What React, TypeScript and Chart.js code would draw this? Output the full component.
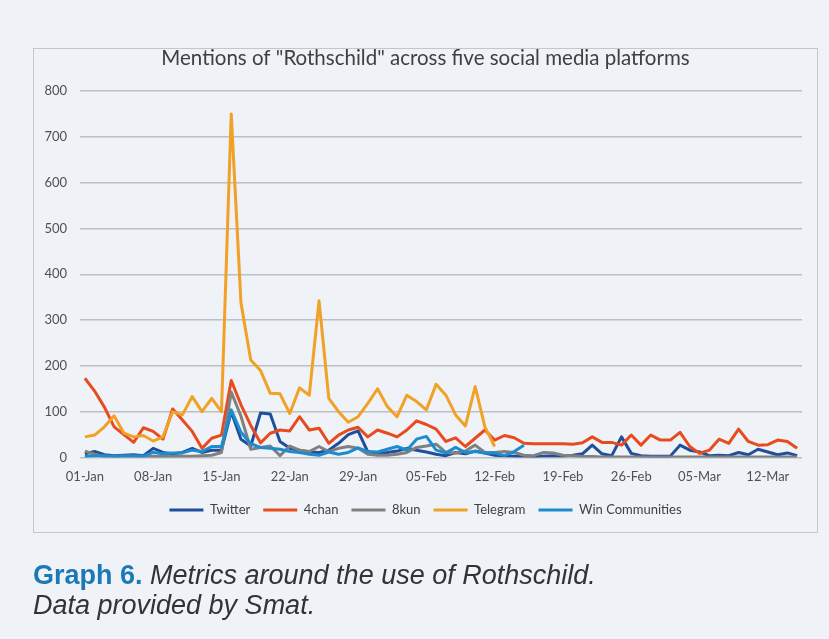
import React, { useEffect, useRef } from 'react';
import { Chart, registerables } from 'chart.js';

Chart.register(...registerables);

const categories = [
  '01-Jan', '02-Jan', '03-Jan', '04-Jan', '05-Jan', '06-Jan', '07-Jan', '08-Jan', '09-Jan', '10-Jan',
  '11-Jan', '12-Jan', '13-Jan', '14-Jan', '15-Jan', '16-Jan', '17-Jan', '18-Jan', '19-Jan', '20-Jan',
  '21-Jan', '22-Jan', '23-Jan', '24-Jan', '25-Jan', '26-Jan', '27-Jan', '28-Jan', '29-Jan', '30-Jan',
  '31-Jan', '01-Feb', '02-Feb', '03-Feb', '04-Feb', '05-Feb', '06-Feb', '07-Feb', '08-Feb', '09-Feb',
  '10-Feb', '11-Feb', '12-Feb', '13-Feb', '14-Feb', '15-Feb', '16-Feb', '17-Feb', '18-Feb', '19-Feb',
  '20-Feb', '21-Feb', '22-Feb', '23-Feb', '24-Feb', '25-Feb', '26-Feb', '27-Feb', '28-Feb', '01-Mar',
  '02-Mar', '03-Mar', '04-Mar', '05-Mar', '06-Mar', '07-Mar', '08-Mar', '09-Mar', '10-Mar', '11-Mar',
  '12-Mar', '13-Mar', '14-Mar', '15-Mar',
];

const twitter = [
  8, 13, 6, 4, 5, 6, 4, 20, 11, 8,
  11, 20, 11, 16, 16, 100, 40, 25, 97, 95,
  35, 20, 16, 12, 11, 16, 31, 50, 58, 12,
  9, 11, 14, 20, 16, 12, 7, 4, 11, 8,
  14, 10, 5, 4, 3, 3, 2, 3, 4, 3,
  5, 8, 27, 8, 4, 45, 9, 4, 3, 3,
  3, 27, 16, 12, 4, 5, 4, 11, 6, 18,
  12, 6, 10, 4,
];

const fourChan = [
  173, 145, 110, 67, 50, 33, 65, 57, 40, 106,
  82, 57, 20, 42, 49, 168, 115, 70, 32, 53,
  60, 58, 89, 60, 64, 31, 49, 60, 66, 45,
  60, 53, 45, 60, 80, 72, 62, 35, 43, 24,
  42, 60, 38, 48, 43, 31, 30, 30, 30, 30,
  29, 32, 45, 33, 33, 27, 49, 27, 49, 38,
  38, 55, 24, 9, 16, 40, 31, 62, 35, 27,
  28, 38, 35, 20,
];

const eightKun = [
  14, 7, 2, 2, 2, 2, 2, 2, 2, 2,
  3, 3, 4, 5, 11, 143, 90, 18, 22, 25,
  4, 25, 16, 13, 24, 13, 20, 24, 20, 7,
  5, 5, 7, 11, 22, 25, 29, 11, 10, 14,
  27, 11, 11, 13, 11, 5, 4, 11, 10, 5,
  4, 2, 2, 1, 1, 1, 1, 1, 1, 1,
  1, 1, 1, 1, 1, 1, 1, 1, 1, 1,
  1, 1, 1, 1,
];

const telegram = [
  45, 49, 67, 91, 53, 45, 48, 36, 45, 100,
  93, 133, 100, 129, 100, 750, 337, 213, 190, 140,
  139, 96, 152, 136, 342, 129, 100, 77, 89, 118,
  150, 111, 89, 136, 122, 104, 160, 136, 93, 69,
  155, 67, 24,
];

const winCommunities = [
  2, 4, 4, 3, 4, 4, 3, 11, 8, 10,
  10, 16, 13, 24, 24, 104, 55, 30, 22, 20,
  18, 13, 11, 7, 5, 12, 7, 11, 21, 13,
  12, 18, 24, 16, 40, 46, 16, 10, 22, 11,
  13, 10, 10, 4, 13, 27,
];

const yMax = 800;
const yStep = 100;
const xLabelEvery = 7;

const titleText = 'Mentions of "Rothschild" across five social media platforms';

const COLORS = {
  twitter: '#1f4f9b',
  fourChan: '#e84b1d',
  eightKun: '#808080',
  telegram: '#f0a126',
  win: '#1d8ccf',
};

const FONT = 'Lato, "Open Sans", sans-serif';

export default function App() {
  const canvasRef = useRef<HTMLCanvasElement | null>(null);

  useEffect(() => {
    const canvas = canvasRef.current;
    if (!canvas) return;
    const mk = (label: string, data: number[], color: string, order: number) => ({
      label,
      data,
      borderColor: color,
      backgroundColor: color,
      borderWidth: 3,
      pointRadius: 0,
      tension: 0,
      fill: false,
      order,
      borderJoinStyle: 'round' as const,
    });
    const chart = new Chart(canvas, {
      type: 'line',
      data: {
        labels: categories,
        datasets: [
          mk('Twitter', twitter, COLORS.twitter, 4),
          mk('4chan', fourChan, COLORS.fourChan, 3),
          mk('8kun', eightKun, COLORS.eightKun, 2),
          mk('Telegram', telegram, COLORS.telegram, 1),
          mk('Win Communities', winCommunities, COLORS.win, 0),
        ],
      },
      options: {
        responsive: false,
        animation: false,
        events: [],
        layout: { padding: { left: 33, right: 11, top: 45.7, bottom: 112.5 } },
        plugins: {
          title: {
            display: true,
            text: titleText,
            color: '#404040',
            font: { family: FONT, size: 20.5, weight: 'normal' },
            padding: { top: 0, bottom: 20.7 },
          },
          legend: {
            position: 'bottom',
            labels: {
              boxWidth: 34,
              boxHeight: 3,
              padding: 13,
              color: '#404040',
              font: { family: FONT, size: 13 },
              generateLabels: (ch: any) => {
                const items = Chart.defaults.plugins.legend.labels.generateLabels(ch);
                return items.map((it: any) => ({ ...it, fillStyle: it.strokeStyle, lineWidth: 0 }));
              },
              sort: (a: any, b: any) => a.datasetIndex - b.datasetIndex,
            },
          },
          tooltip: { enabled: false },
        },
        scales: {
          x: {
            offset: true,
            grid: { display: false, drawTicks: false },
            border: { display: false },
            ticks: {
              autoSkip: false,
              maxRotation: 0,
              minRotation: 0,
              padding: 12,
              color: '#505050',
              font: { family: FONT, size: 13 },
              callback: (_v: any, i: number) => (i % xLabelEvery === 0 ? categories[i] : ''),
            },
            afterFit: (s: any) => {
              s.height = 33;
            },
          },
          y: {
            min: 0,
            max: yMax,
            ticks: {
              stepSize: yStep,
              padding: 13,
              color: '#505050',
              font: { family: FONT, size: 13 },
            },
            grid: { color: '#bcbfc4', lineWidth: 1.5, drawTicks: false },
            border: { display: false },
            afterFit: (s: any) => {
              s.width = 47;
            },
          },
          y2: {
            type: 'linear',
            position: 'right',
            display: true,
            grid: { display: false },
            ticks: { display: false },
            border: { display: false },
            afterFit: (s: any) => {
              s.width = 16;
            },
          },
        },
      } as any,
    });
    return () => chart.destroy();
  }, []);

  return (
    <div
      style={{
        position: 'absolute',
        left: 0,
        top: 0,
        width: 829,
        height: 639,
        background: '#eff2f7',
        overflow: 'hidden',
      }}
    >
      <div
        style={{
          position: 'absolute',
          left: 33,
          top: 48,
          width: 785,
          height: 485,
          boxSizing: 'border-box',
          border: '1.5px solid #c3c6cb',
        }}
      />
      <canvas
        ref={canvasRef}
        width={829}
        height={639}
        style={{ position: 'absolute', left: 0, top: 0, width: 829, height: 639 }}
      />
      <div
        style={{
          position: 'absolute',
          left: 33,
          top: 560,
          fontFamily: '"Liberation Sans", Arial, sans-serif',
          fontSize: 27,
          lineHeight: '30px',
          color: '#333333',
          whiteSpace: 'nowrap',
        }}
      >
        <span style={{ color: '#1b79b6', fontWeight: 'bold' }}>Graph 6.</span>{' '}
        <i>Metrics around the use of Rothschild.</i>
        <br />
        <i>Data provided by Smat.</i>
      </div>
    </div>
  );
}
